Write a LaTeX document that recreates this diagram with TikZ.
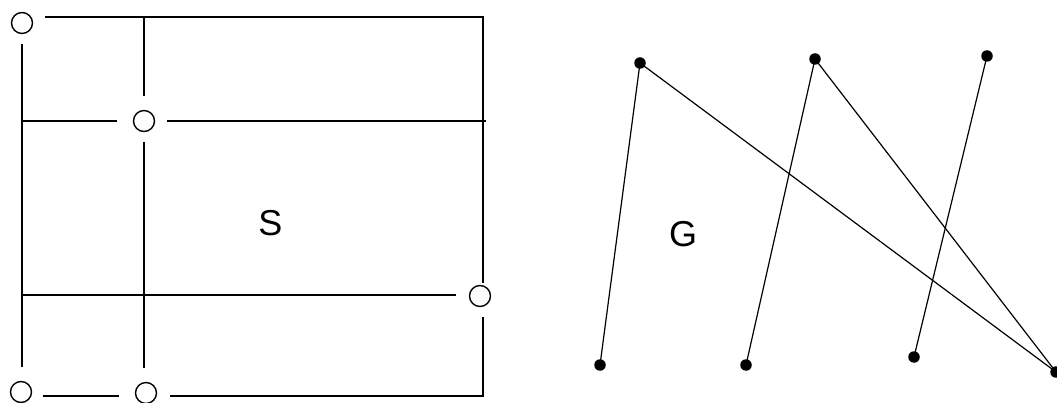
\documentclass[tikz,border=0pt]{standalone}
\usepackage{fontspec}
\setmainfont{Liberation Sans}
\begin{document}
\begin{tikzpicture}[x=1pt,y=-1pt,
  gridline/.style={line width=1.6pt,black},
  hole/.style={circle,draw,line width=1.4pt,minimum size=21pt,inner sep=0pt},
  dot/.style={circle,fill=black,minimum size=11.5pt,inner sep=0pt},
  edge/.style={line width=1.2pt,black},
  lbl/.style={font=\fontsize{36}{40}\selectfont}]
\useasboundingbox (0,0) rectangle (1057,403);
% left figure: grid with holes
\node[hole] (h1) at (22,23) {};
\node[hole] (h2) at (144,121) {};
\node[hole] (h3) at (480,296) {};
\node[hole] (h4) at (21,392) {};
\node[hole] (h5) at (146,393) {};
\coordinate (tl) at (45,17);
\coordinate (tr) at (483,17);
\coordinate (tm) at (144,17);
\coordinate (lt) at (22,44);
\coordinate (lb) at (22,367);
\coordinate (m2a) at (22,121);
\coordinate (m2b) at (486,121);
\coordinate (m3a) at (22,295);
\coordinate (m3b) at (456,295);
\coordinate (rb) at (483,396);
\coordinate (b1a) at (43,396);
\coordinate (b1b) at (119,396);
\coordinate (b2a) at (170,396);
\coordinate (vt) at (144,96);
\coordinate (vb1) at (144,142);
\coordinate (vb2) at (144,368);
\coordinate (r1) at (483,283);
\coordinate (r2) at (483,317);
\coordinate (m2l) at (117,121);
\coordinate (m2r) at (167,121);
\draw[gridline] (tl) -- (tr) -- (r1);
\draw[gridline] (r2) -- (rb) -- (b2a);
\draw[gridline] (b1a) -- (b1b);
\draw[gridline] (lt) -- (lb);
\draw[gridline] (tm) -- (vt);
\draw[gridline] (vb1) -- (vb2);
\draw[gridline] (m2a) -- (m2l);
\draw[gridline] (m2r) -- (m2b);
\draw[gridline] (m3a) -- (m3b);
\node[lbl] (S) at (270.5,223) {S};
% right figure: graph G
\node[dot] (a) at (640,63) {};
\node[dot] (b) at (815,59) {};
\node[dot] (c) at (987,56) {};
\node[dot] (d) at (600,365) {};
\node[dot] (e) at (746,365) {};
\node[dot] (f) at (914,357) {};
\node[dot] (h) at (1056,372) {};
\draw[edge] (a.center) -- (d.center);
\draw[edge] (b.center) -- (e.center);
\draw[edge] (c.center) -- (f.center);
\draw[edge] (a.center) -- (h.center);
\draw[edge] (b.center) -- (h.center);
\node[lbl] (G) at (683,234) {G};
\end{tikzpicture}
\end{document}
